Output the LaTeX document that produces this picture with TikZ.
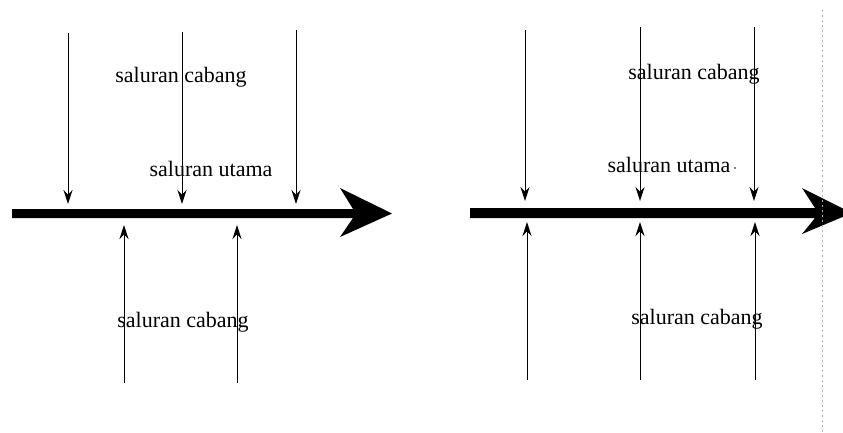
\documentclass[tikz,border=0pt]{standalone}
\usepackage{fontspec}
\setmainfont{Liberation Serif}
\usetikzlibrary{arrows.meta}
\tikzset{
  branch/.style={line width=0.9pt, -{Stealth[length=14pt,width=9pt]}},
  lbl/.style={inner sep=0pt, font=\fontsize{22}{24}\selectfont},
  mainarrow/.style={fill=black},
}
\begin{document}
\begin{tikzpicture}[x=1pt,y=-1pt]
\useasboundingbox (0,0) rectangle (843,432);
\clip (0,0) rectangle (843,432);
% ---- left diagram ----
\fill[mainarrow] (12,209) -- (353,209) -- (340,188) -- (392,213.5) -- (340,237) -- (353,218) -- (12,218) -- cycle;
\coordinate (la1s) at (68,33);  \coordinate (la1e) at (68,204);
\coordinate (la2s) at (182,32); \coordinate (la2e) at (182,204);
\coordinate (la3s) at (296,30); \coordinate (la3e) at (296,204);
\coordinate (lb1s) at (124,383); \coordinate (lb1e) at (124,225);
\coordinate (lb2s) at (237,383); \coordinate (lb2e) at (237,225);
\draw[branch] (la1s) -- (la1e);
\draw[branch] (la2s) -- (la2e);
\draw[branch] (la3s) -- (la3e);
\draw[branch] (lb1s) -- (lb1e);
\draw[branch] (lb2s) -- (lb2e);
\node[lbl] (ltop) at (181,77) {saluran cabang};
\node[lbl] (lmid) at (211,169) {saluran utama};
\node[lbl] (lbot) at (183,322) {saluran cabang};
% ---- right diagram ----
\fill[mainarrow] (470,208) -- (815,208) -- (802,188) -- (852,213) -- (802,234) -- (815,218) -- (470,218) -- cycle;
\coordinate (ra1s) at (525,30);  \coordinate (ra1e) at (525,201);
\coordinate (ra2s) at (640,27);  \coordinate (ra2e) at (640,201);
\coordinate (ra3s) at (754,27);  \coordinate (ra3e) at (754,201);
\coordinate (rb1s) at (527,380); \coordinate (rb1e) at (527,222);
\coordinate (rb2s) at (640,380); \coordinate (rb2e) at (640,222);
\coordinate (rb3s) at (755,380); \coordinate (rb3e) at (755,222);
\draw[branch] (ra1s) -- (ra1e);
\draw[branch] (ra2s) -- (ra2e);
\draw[branch] (ra3s) -- (ra3e);
\draw[branch] (rb1s) -- (rb1e);
\draw[branch] (rb2s) -- (rb2e);
\draw[branch] (rb3s) -- (rb3e);
\node[lbl] (rtop) at (694,74) {saluran cabang};
\node[lbl] (rmid) at (669,165) {saluran utama};
\fill (735,168) circle (0.9pt);
\node[lbl] (rbot) at (697,319) {saluran cabang};
% scan edge
\draw[gray!60, line width=0.7pt, dash pattern=on 2pt off 3pt] (822,10) -- (822,432);
\end{tikzpicture}
\end{document}
